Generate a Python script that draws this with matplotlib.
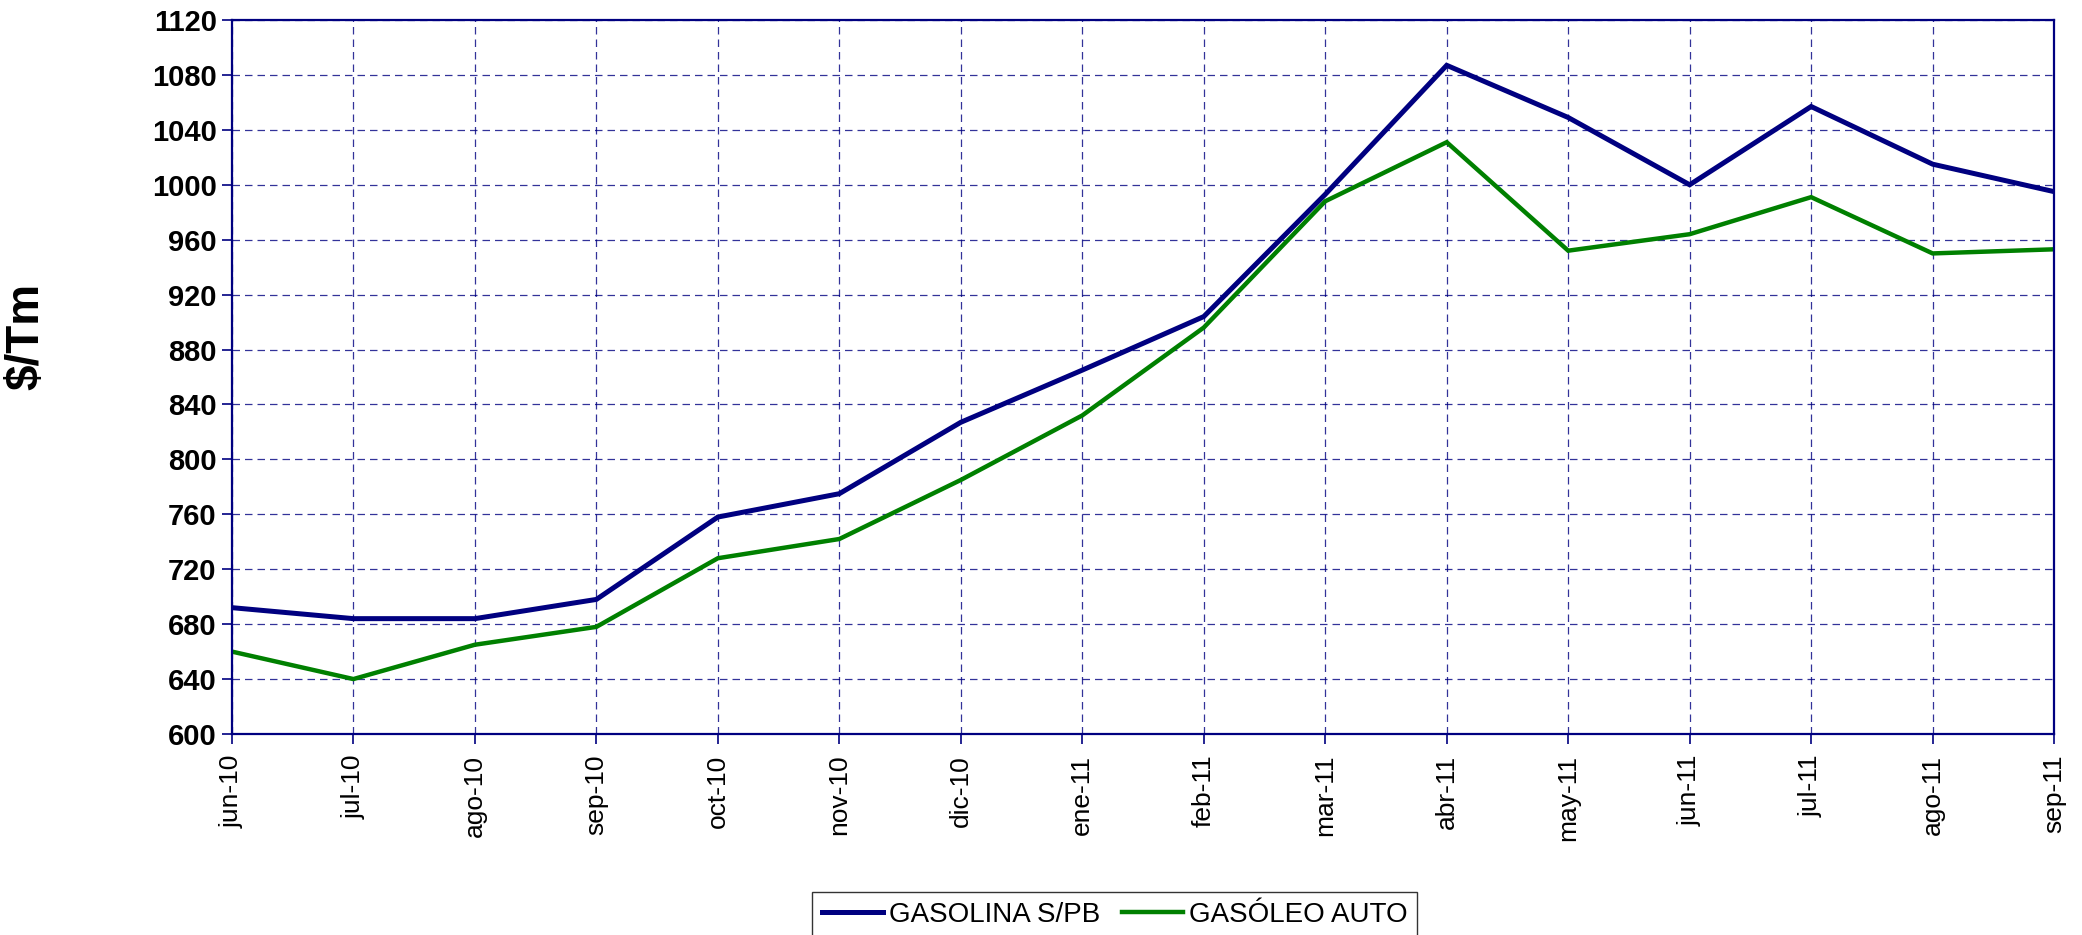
import matplotlib.pyplot as plt
import numpy as np

months = ['jun-10', 'jul-10', 'ago-10', 'sep-10', 'oct-10', 'nov-10', 'dic-10', 'ene-11',
          'feb-11', 'mar-11', 'abr-11', 'may-11', 'jun-11', 'jul-11', 'ago-11', 'sep-11']

gasolina = [692, 684, 684, 698, 758, 775, 827, 865, 904, 993, 1087, 1049, 1000, 1057, 1015, 995]
gasoleo = [660, 640, 665, 678, 728, 742, 785, 832, 896, 988, 1031, 952, 964, 991, 950, 953]

yticks = np.arange(600, 1121, 40)

navy = '#000080'
green = '#008000'
narrow = ['Liberation Sans Narrow', 'Liberation Sans', 'DejaVu Sans']

fig = plt.figure(figsize=(20.82, 9.35), dpi=100)
ax = fig.add_axes([0.1114, 0.215, 0.8752, 0.7636])

x = np.arange(len(months))
ax.plot(x, gasolina, color=navy, lw=3.6, label='GASOLINA S/PB', solid_joinstyle='miter')
ax.plot(x, gasoleo, color=green, lw=3.2, label='GASÓLEO AUTO', solid_joinstyle='miter')

ax.set_xlim(0, len(months) - 1)
ax.set_ylim(600, 1120)
ax.set_yticks(yticks)
ax.set_xticks(x)
ax.set_xticklabels(months, rotation=90, fontsize=19, family=['Liberation Sans', 'DejaVu Sans'])
ax.set_yticklabels([str(v) for v in yticks], fontsize=21, fontweight='bold', family=narrow)

ax.grid(True, color=navy, lw=0.9, linestyle=(0, (6, 4)), alpha=0.8)
ax.set_axisbelow(True)
for s in ax.spines.values():
    s.set_color(navy)
    s.set_linewidth(1.6)
ax.tick_params(axis='both', colors=navy, length=7, width=1.2, labelcolor='black')
ax.tick_params(axis='y', pad=4)
ax.tick_params(axis='x', pad=8)

fig.text(0.0125, 0.64, '$/Tm', rotation=90, fontsize=33, fontweight='bold',
         family=['Liberation Sans', 'DejaVu Sans'], va='center', ha='center')

leg = fig.legend(loc='lower center', bbox_to_anchor=(0.5355, -0.018), ncol=2,
                 prop={'family': narrow, 'size': 20}, frameon=True, fancybox=False,
                 handlelength=2.2, handletextpad=0.2, columnspacing=0.8,
                 borderpad=0.35)
leg.get_frame().set_edgecolor('black')
leg.get_frame().set_linewidth(1.0)

fig.savefig('out.png', dpi=100)
